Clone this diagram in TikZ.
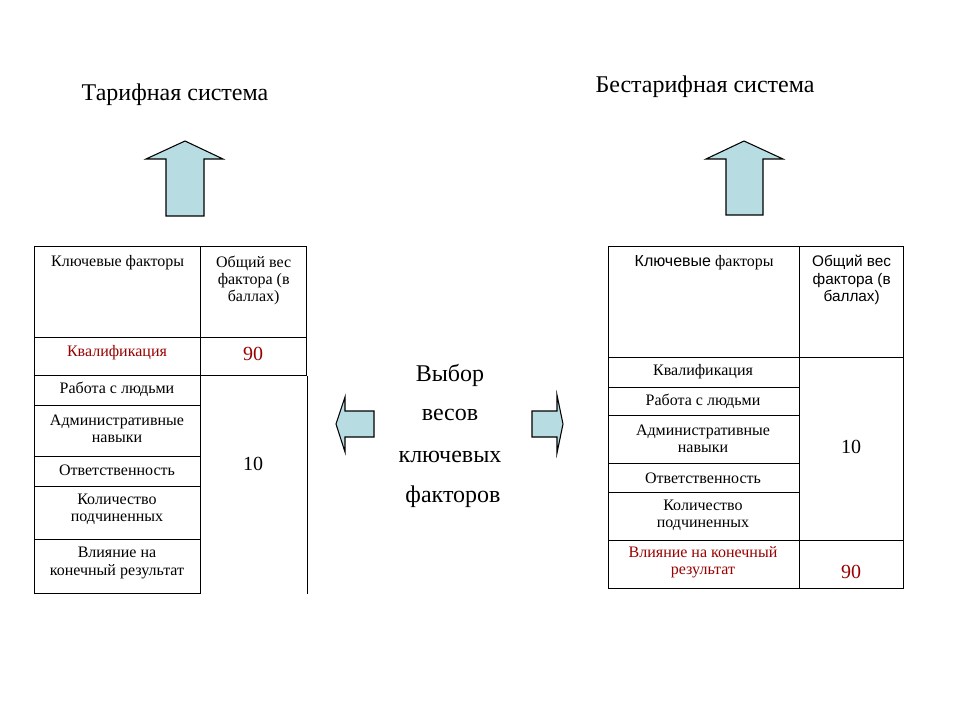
\documentclass[tikz,border=0pt]{standalone}
\usepackage{fontspec}
\setmainfont{Liberation Serif}
\newfontfamily\arialfont{Liberation Sans}
\usetikzlibrary{positioning}

\definecolor{arrowfill}{HTML}{B7DDE3}
\definecolor{darkred}{HTML}{990000}

\tikzset{
  cell/.style={draw, line width=1pt, anchor=north west, inner sep=0pt},
  txt/.style={font=\fontsize{12}{13}\selectfont, align=center, inner sep=1pt},
  sftxt/.style={font=\arialfont\fontsize{11.5}{13}\selectfont, align=center, inner sep=1pt},
  weight/.style={font=\fontsize{15}{17}\selectfont, inner sep=1pt},
  title/.style={font=\fontsize{18}{21}\selectfont},
  midtxt/.style={font=\fontsize{18}{22}\selectfont},
  blockarrow/.style={draw, fill=arrowfill, line width=0.8pt, line join=miter}
}

% cell: name, x1, y1, x2, y2 (pixels, y down)
\newcommand{\tabcell}[5]{\node[cell, minimum width={(#4-(#2))*0.75pt}, minimum height={(#5-(#3))*0.75pt}] (#1) at (#2,#3) {};}

\begin{document}
\begin{tikzpicture}[x=0.75pt,y=-0.75pt]
  \useasboundingbox[fill=white] (0,0) rectangle (960,720);

  % titles
  \node[title] (tarif) at (175,95) {Тарифная система};
  \node[title] (bestarif) at (705,87) {Бестарифная система};

  % up arrows
  \filldraw[blockarrow] (166,216) -- (166,159) -- (146,159) -- (185,141) -- (223,159) -- (204,159) -- (204,216) -- cycle;
  \filldraw[blockarrow] (726,215) -- (726,159) -- (706,159) -- (744,141) -- (783,159) -- (763,159) -- (763,215) -- cycle;

  % side arrows
  \filldraw[blockarrow] (374,411) -- (345,411) -- (345,397) -- (336,424) -- (345,452) -- (345,437) -- (374,437) -- cycle;
  \filldraw[blockarrow] (532,411) -- (557,411) -- (557,395) -- (563,424) -- (557,453) -- (557,437) -- (532,437) -- cycle;

  % middle text
  \node[midtxt] (w1) at (450,375) {Выбор};
  \node[midtxt] (w2) at (450,415) {весов};
  \node[midtxt] (w3) at (450,457) {ключевых};
  \node[midtxt] (w4) at (453,497) {факторов};

  % left table
  \tabcell{lh1}{34}{246}{200}{337}
  \tabcell{lh2}{200}{246}{306}{337}
  \tabcell{lr1}{34}{337}{200}{375}
  \tabcell{lv1}{200}{337}{306}{375}
  \tabcell{lr2}{34}{375}{200}{405}
  \tabcell{lr3}{34}{405}{200}{456}
  \tabcell{lr4}{34}{456}{200}{486}
  \tabcell{lr5}{34}{486}{200}{539}
  \tabcell{lr6}{34}{539}{200}{593}
  \draw[line width=1pt] (lv1.south east) -- (lv1.south east |- lr6.south east);

  \node[txt, below=6pt of lh1.north] (lk) {Ключевые факторы};
  \node[txt, below=6pt of lh2.north] (lw) {Общий вес\\фактора (в\\баллах)};
  \node[txt, text=darkred] (lt1) at (117,353) {Квалификация};
  \node[txt] (lt2) at (117,389) {Работа с людьми};
  \node[txt] (lt3) at (117,429) {Административные\\навыки};
  \node[txt] (lt4) at (117,470) {Ответственность};
  \node[txt] (lt5) at (117,509) {Количество\\подчиненных};
  \node[txt] (lt6) at (117,563) {Влияние на\\конечный результат};
  \node[weight, text=darkred] (l90) at (253,354) {90};
  \node[weight] (l10) at (253,464) {10};

  % right table
  \tabcell{rh1}{608}{246}{799}{357}
  \tabcell{rh2}{799}{246}{903}{357}
  \tabcell{rr1}{608}{357}{799}{387}
  \tabcell{rr2}{608}{387}{799}{415}
  \tabcell{rr3}{608}{415}{799}{463}
  \tabcell{rr4}{608}{463}{799}{492}
  \tabcell{rr5}{608}{492}{799}{540}
  \tabcell{rr6}{608}{540}{799}{588}
  \tabcell{rv1}{799}{357}{903}{540}
  \tabcell{rv2}{799}{540}{903}{588}

  \node[txt, below=6pt of rh1.north] (rk) {{\arialfont Ключевые} факторы};
  \node[sftxt, below=6pt of rh2.north] (rw) {Общий вес\\фактора (в\\баллах)};
  \node[txt] (rt1) at (703,372) {Квалификация};
  \node[txt] (rt2) at (703,401) {Работа с людьми};
  \node[txt] (rt3) at (703,439) {Административные\\навыки};
  \node[txt] (rt4) at (703,478) {Ответственность};
  \node[txt] (rt5) at (703,515) {Количество\\подчиненных};
  \node[txt, text=darkred] (rt6) at (703,562) {Влияние на конечный\\результат};
  \node[weight] (r10) at (851,447) {10};
  \node[weight, text=darkred] (r90) at (851,572) {90};
\end{tikzpicture}
\end{document}
